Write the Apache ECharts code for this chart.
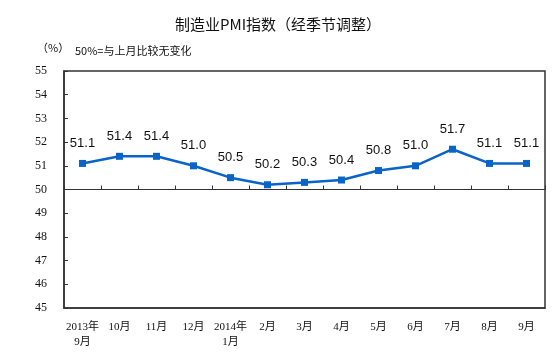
<!DOCTYPE html>
<html><head><meta charset="utf-8">
<script src="https://cdn.jsdelivr.net/npm/echarts@6/dist/echarts.min.js"></script>
<style>html,body{margin:0;padding:0;background:#fff}#c{width:553px;height:364px}</style>
</head><body><div id="c"></div>
<script>
const categories = ['2013年\n9月','10月','11月','12月','2014年\n1月','2月','3月','4月','5月','6月','7月','8月','9月'];
const pmiValues = [51.1, 51.4, 51.4, 51.0, 50.5, 50.2, 50.3, 50.4, 50.8, 51.0, 51.7, 51.1, 51.1];
const yMin = 45, yMax = 55, yStep = 1;

const serif = '"Liberation Serif", "Noto Sans CJK SC", serif';
const chart = echarts.init(document.getElementById('c'));
chart.setOption({
  animation: false,
  backgroundColor: '#fff',
  title: [
    {text: '制造业PMI指数（经季节调整）', left: 273, textAlign: 'center', top: 12,
     textStyle: {fontFamily: '"Noto Sans CJK SC", sans-serif', fontSize: 15, fontWeight: 'normal', color: '#111'}},
    {text: '（%）', left: 32, top: 37, textStyle: {fontFamily: '"Noto Sans CJK SC", sans-serif', fontSize: 11, fontWeight: 'normal', color: '#111'}},
    {text: '50%=与上月比较无变化', left: 70, top: 40, textStyle: {fontFamily: '"Noto Sans CJK SC", sans-serif', fontSize: 11, fontWeight: 'normal', color: '#111'}}
  ],
  grid: [
    {left: 64, right: 8, top: 71, bottom: 56, show: true, borderColor: '#333', borderWidth: 1.5, backgroundColor: 'transparent'},
    {left: 64, right: 8, top: 71, bottom: 174.5, show: false}
  ],
  xAxis: [
    {type: 'category', data: categories, gridIndex: 0, boundaryGap: true,
     axisLine: {show: true, lineStyle: {color: '#333', width: 1.5}},
     axisTick: {show: false},
     axisLabel: {fontFamily: serif, fontSize: 11, color: '#111', margin: 12, lineHeight: 15, interval: 0}},
    {type: 'category', data: categories, gridIndex: 1, boundaryGap: true,
     axisLine: {show: true, lineStyle: {color: '#333', width: 1.2}},
     axisTick: {show: true, inside: true, length: 4, lineStyle: {color: '#333'}, interval: 0},
     axisLabel: {show: false}}
  ],
  yAxis: [
    {type: 'value', gridIndex: 0, min: yMin, max: yMax, interval: yStep,
     axisLine: {show: true, lineStyle: {color: '#333', width: 1.5}},
     axisTick: {show: true, inside: true, length: 4, lineStyle: {color: '#333'}},
     splitLine: {show: false},
     axisLabel: {fontFamily: serif, fontSize: 12, color: '#111', margin: 17}},
    {type: 'value', gridIndex: 1, min: 0, max: 1, show: false}
  ],
  series: [{
    type: 'line', xAxisIndex: 0, yAxisIndex: 0, data: pmiValues,
    symbol: 'rect', symbolSize: 7,
    lineStyle: {color: '#0a64c8', width: 2.5},
    itemStyle: {color: '#0a64c8'},
    label: {show: true, position: 'top', distance: 10,
      formatter: p => p.value.toFixed(1),
      fontFamily: '"Liberation Sans", Arial, sans-serif', fontSize: 13, color: '#111'}
  }]
});
</script></body></html>
